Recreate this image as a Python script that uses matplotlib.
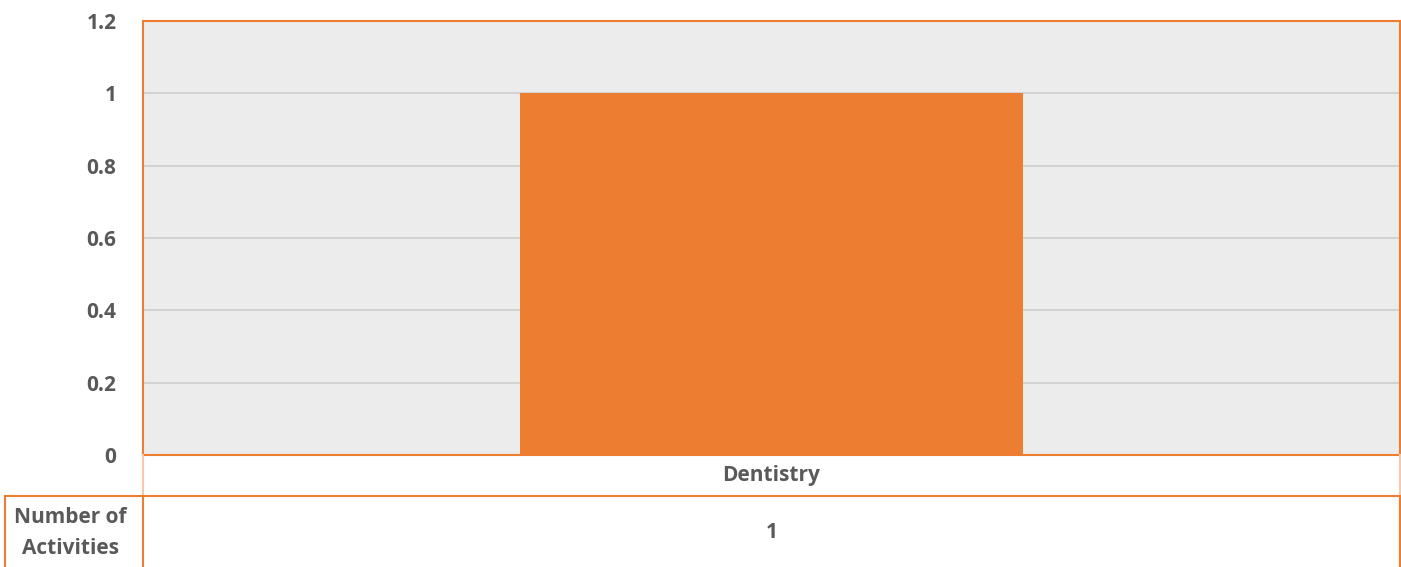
import matplotlib.pyplot as plt
from matplotlib.lines import Line2D

categories = ['Dentistry']
values = [1]
row_label = 'Number of\nActivities'
yticks = [0, 0.2, 0.4, 0.6, 0.8, 1, 1.2]
ytick_labels = ['0', '0.2', '0.4', '0.6', '0.8', '1', '1.2']

orange = '#ed7d31'
light_orange = '#f8c9a6'
text_col = '#595959'
plt.rcParams['font.family'] = ['Open Sans', 'DejaVu Sans']

W, H = 1401, 567
fig = plt.figure(figsize=(W / 100, H / 100), dpi=100)

def fx(px):
    return px / W

def fy(py):
    return 1 - py / H

ax = fig.add_axes([fx(143), fy(455), fx(1400) - fx(143), fy(21) - fy(455)])
ax.set_facecolor('#ececec')
ax.bar(range(len(categories)), values, width=0.4, color=orange, zorder=3)
ax.set_xlim(-0.5, len(categories) - 0.5)
ax.set_ylim(0, 1.2)
ax.set_yticks(yticks)
ax.set_yticklabels(ytick_labels, fontsize=15, fontweight='bold', color=text_col)
ax.set_xticks([])
ax.tick_params(axis='y', length=0, pad=19)
ax.yaxis.grid(True, color='#d0d0d0', linewidth=1.3, zorder=0)
for s in ax.spines.values():
    s.set_color(orange)
    s.set_linewidth(1.5)

# data table under the chart
def hline(y, x0, x1, c=orange, lw=1.5):
    fig.add_artist(Line2D([fx(x0), fx(x1)], [fy(y), fy(y)], color=c, lw=lw))

def vline(x, y0, y1, c=orange, lw=1.5):
    fig.add_artist(Line2D([fx(x), fx(x)], [fy(y0), fy(y1)], color=c, lw=lw))

vline(143, 455, 496, c=light_orange)
vline(1400, 455, 496, c=light_orange)
hline(496, 5, 1400)
vline(5, 496, 567)
vline(143, 496, 567)
vline(1400, 496, 567)

for i, cat in enumerate(categories):
    xc = ax.transData.transform((i, 0))[0] / W
    fig.text(xc, fy(476), cat, ha='center', va='center', fontsize=15,
             fontweight='bold', color=text_col)
    fig.text(xc, fy(533), str(values[i]), ha='center', va='center', fontsize=15,
             fontweight='bold', color=text_col)

fig.text(fx(70), fy(533), row_label, ha='center', va='center', fontsize=15,
         fontweight='bold', color=text_col, linespacing=1.6)

fig.savefig('out.png', dpi=100)
